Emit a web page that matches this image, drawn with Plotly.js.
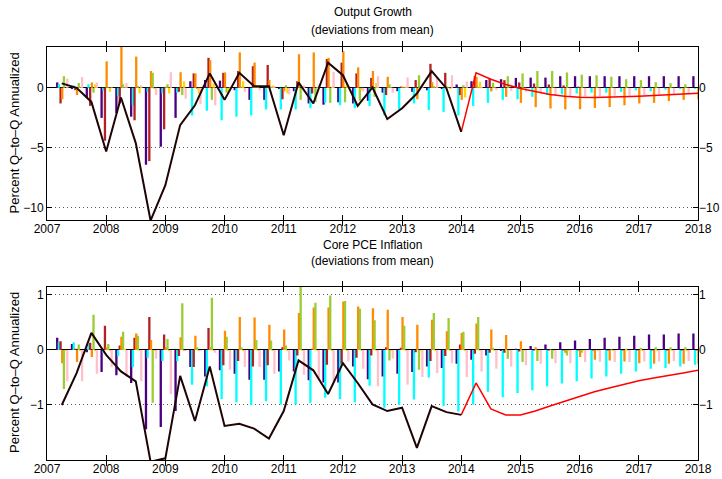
<!DOCTYPE html>
<html>
<head>
<meta charset="utf-8">
<script src="https://cdn.plot.ly/plotly-3.0.1.min.js"></script>
<style>
  html, body { margin: 0; padding: 0; background: #fff; }
  #chart { width: 722px; height: 479px; }
</style>
</head>
<body>
<div id="chart"></div>
<script>
// Quarters 2007Q1 .. 2017Q4, plotted at year + q/4
const quarters = [];
for (let y = 2007; y <= 2017; y++) {
  for (let q = 1; q <= 4; q++) quarters.push(y + q / 4);
}
const yearTicks = [2007, 2008, 2009, 2010, 2011, 2012, 2013, 2014, 2015, 2016, 2017, 2018];

// Shock contributions — output growth
const gdpPurple = [0.45, -0.1, -0.8, -2.5, -2.1, -2.4, -6.4, -4.9, -2.5, 0.55, 0.65, 0.6, -0.2, -1.0, -1.0, -0.1, -0.28, -1.3, -1.4, -1.2, -1.3, -1.08, -0.4, -0.28, -0.33, -0.2, -0.1, 0.28, 0.55, 0.65, 0.72, 0.83, 0.85, 0.85, 0.97, 0.97, 0.97, 0.97, 0.97, 0.97, 0.97, 0.97, 0.97, 0.97];
const gdpCyan = [0.3, 0.2, 0.3, -0.2, -0.65, -1.45, -0.33, -0.47, -0.4, -2.3, -1.9, -2.7, -2.4, -2.3, -1.8, -1.8, -1.8, -1.67, -1.25, -1.45, -1.67, -1.5, -2.3, -1.8, -1.3, -1.85, -2.0, -2.3, -1.5, -1.25, -1.0, -0.95, -0.75, -0.6, -0.55, -0.47, -0.4, -0.4, -0.33, -0.2, -0.28, -0.15, -0.1, -0.08];
const gdpRed = [-1.3, -0.2, -1.5, -4.4, -1.3, -2.7, -6.1, -3.45, -0.33, 1.2, 2.5, 1.25, 1.4, 1.8, 1.9, -0.95, 0.55, -0.47, 2.4, 2.1, 1.2, 0.83, -0.6, 0.1, 0.65, 2.0, 1.25, -0.6, 0.97, 0.78, 0.64, 0.45, 0.36, 0.28, 0.2, 0.1, 0.05, 0.02, 0.02, 0.02, 0.02, 0.02, 0.02, 0.02];
const gdpOrange = [-0.95, -0.6, 0.45, 2.2, 3.5, 2.6, 1.4, 0.1, 1.3, 1.2, 2.3, 1.28, 2.95, 2.1, 0.65, -0.3, 2.8, 2.95, 2.5, 3.05, 1.7, 1.4, 0.92, 0.1, -0.95, 0.47, 0.1, -1.0, 0.92, -0.3, -0.75, -1.25, -1.6, -1.72, -1.8, -1.78, -1.67, -1.6, -1.45, -1.3, -1.25, -1.1, -1.0, -0.95];
const gdpGreen = [0.97, 0.4, -0.4, 0.05, 0.3, 0.15, 1.25, 0.3, -0.6, -0.1, -1.0, -0.4, 0.1, 0.05, 0.1, 0.22, -1.0, -1.17, -1.25, -1.2, -1.08, -0.75, 0.3, 0.05, 1.05, 0.14, 0.05, 0.22, 0.1, 0.42, 0.97, 1.2, 1.4, 1.4, 1.28, 1.1, 1.05, 0.92, 0.72, 0.64, 0.47, 0.39, 0.3, 0.2];
const gdpGold = [0.0, 0.05, 0.3, -0.33, 0.05, -0.45, -0.1, -0.47, 0.55, -0.47, 0.35, -0.33, 0.55, 0.05, 0.2, -0.47, 0.1, 0.05, 0.1, 0.28, -0.2, 0.4, 0.05, 0.1, 0.1, 0.05, -0.1, -0.8, 0.5, 0.05, 0.02, 0.02, 0.02, 0.02, 0.02, 0.02, 0.02, 0.02, 0.02, 0.02, 0.02, 0.02, 0.02, 0.02];
const gdpPink = [0.78, 0.9, 0.45, 0.05, 0.4, 0.2, -0.6, 1.3, -0.9, -1.35, -1.45, 0.05, -0.33, -0.2, 0.15, -0.55, 0.2, 0.3, 1.33, 0.15, -0.3, 0.97, -0.4, 0.86, 0.1, 0.9, 1.05, 0.53, 0.08, -0.2, -0.25, -0.33, -0.47, -0.6, -0.7, -0.7, -0.7, -0.65, -0.65, -0.6, -0.55, -0.53, -0.47, -0.42];

// Output growth: history (2007Q1..2013Q4) and forecast (2013Q4..2017Q4)
const gdpHist = [0.37, 0.0, -1.17, -5.3, -0.8, -4.6, -11.05, -8.1, -3.1, -1.45, 1.2, -1.0, 1.25, 0.14, 0.14, -3.95, 0.45, -1.3, 2.1, 1.05, -1.5, 0.03, -2.6, -1.7, -0.47, 1.39, -0.05, -3.67];
const gdpFcst = [-3.67, 1.25, 0.72, 0.28, -0.05, -0.33, -0.55, -0.69, -0.78, -0.8, -0.78, -0.75, -0.7, -0.64, -0.58, -0.53, -0.45];

// Shock contributions — core PCE inflation
const pcePurple = [0.22, 0.11, -0.04, -0.4, -0.46, -0.6, -1.44, -1.4, -1.11, -0.31, -0.48, -0.37, -0.43, -0.54, -0.54, -0.39, -0.39, -0.55, -0.59, -0.59, -0.3, -0.53, -0.48, -0.43, -0.4, -0.3, -0.33, -0.25, -0.18, -0.1, -0.02, 0.02, 0.07, 0.1, 0.14, 0.17, 0.2, 0.22, 0.24, 0.26, 0.28, 0.28, 0.3, 0.3];
const pceCyan = [0.14, 0.14, 0.11, -0.05, -0.11, -0.31, -0.14, -0.2, -0.2, -0.63, -0.66, -0.89, -0.95, -1.0, -0.93, -0.99, -0.99, -0.96, -0.87, -0.89, -0.95, -0.65, -1.05, -1.0, -0.9, -0.5, -1.02, -1.12, -0.99, -0.76, -0.86, -0.78, -0.73, -0.66, -0.61, -0.57, -0.52, -0.48, -0.43, -0.39, -0.34, -0.33, -0.3, -0.27];
const pceRed = [0.16, 0.02, 0.13, 0.44, 0.08, 0.22, 0.6, 0.28, -0.11, -0.31, 0.4, -0.28, -0.2, -0.3, -0.28, 0.05, -0.1, 0.02, -0.27, -0.25, -0.14, -0.1, 0.05, 0.04, -0.04, -0.2, -0.11, 0.1, -0.07, -0.05, -0.05, -0.03, -0.01, -0.01, -0.01, -0.01, -0.01, -0.01, -0.01, -0.01, -0.01, -0.01, -0.01, -0.01];
const pceOrange = [-0.24, -0.22, -0.13, 0.05, 0.24, 0.3, 0.18, 0.05, 0.23, 0.26, 0.05, 0.35, 0.6, 0.59, 0.46, 0.37, 0.67, 0.77, 0.77, 0.88, 0.79, 0.76, 0.73, 0.6, 0.46, 0.55, 0.34, 0.31, 0.48, 0.37, 0.27, 0.16, 0.05, 0.01, -0.05, -0.13, -0.18, -0.19, -0.21, -0.24, -0.25, -0.25, -0.25, -0.25];
const pceGreen = [-0.71, 0.1, 0.64, 0.11, 0.33, 0.26, -0.96, 0.2, 0.85, 0.05, 0.95, 0.24, 0.05, 0.18, 0.17, 0.08, 1.16, 0.86, 0.99, 0.89, 0.75, 0.54, -0.19, 0.44, -0.36, 0.67, 0.58, 0.33, 0.6, 0.04, -0.16, -0.22, -0.2, -0.16, -0.1, -0.05, 0.0, 0.01, 0.02, 0.04, 0.05, 0.05, 0.05, 0.05];
const pceGold = [-0.02, -0.02, -0.02, -0.02, 0.02, -0.02, -0.02, -0.02, -0.02, -0.02, -0.02, -0.02, -0.02, -0.02, -0.02, -0.02, -0.02, -0.02, -0.02, -0.02, -0.02, -0.02, -0.02, -0.02, -0.02, -0.02, -0.02, -0.02, -0.02, -0.02, -0.02, -0.02, -0.02, -0.02, -0.02, -0.02, -0.02, -0.02, -0.02, -0.02, -0.02, -0.02, -0.02, -0.02];
const pcePink = [-0.57, -0.57, -0.43, -0.31, -0.48, -0.57, -0.16, -0.8, -0.02, -0.02, -0.05, -0.36, -0.31, -0.31, -0.43, -0.19, -0.45, -0.51, -0.57, -0.21, -0.34, -0.66, -0.16, -0.63, -0.49, -0.42, -0.24, -0.49, -0.39, -0.34, -0.3, -0.28, -0.25, -0.24, -0.24, -0.22, -0.22, -0.22, -0.22, -0.21, -0.21, -0.2, -0.2, -0.2];

const pceHist = [-1.0, -0.42, 0.31, -0.09, -0.39, -0.57, -2.03, -1.97, -0.47, -1.29, -0.3, -1.38, -1.34, -1.43, -1.61, -1.11, -0.19, -0.37, -0.8, -0.24, -0.6, -0.99, -1.11, -1.05, -1.78, -1.02, -1.13, -1.18];
const pceFcst = [-1.18, -0.6, -1.07, -1.18, -1.18, -1.11, -1.02, -0.93, -0.84, -0.76, -0.69, -0.62, -0.56, -0.51, -0.47, -0.42, -0.37];

const seriesColors = ['#4b0082', '#00ffff', '#b22222', '#ff8c00', '#9acd32', '#ffd700', '#ffc0cb'];
const histX = quarters.slice(0, 28);
const fcstX = quarters.slice(27);

// Seven slightly overlapping bars per quarter (x units: one quarter = 0.25)
const BAR_W = 0.039, BAR_STEP = 0.0284, BAR_SHIFT = 0.0076;

function barTraces(list, xa, ya) {
  return list.map((vals, i) => ({
    type: 'bar', x: quarters, y: vals, xaxis: xa, yaxis: ya,
    width: BAR_W, offset: BAR_SHIFT + (i - 3) * BAR_STEP - BAR_W / 2,
    marker: { color: seriesColors[i], line: { width: 0 } },
    hoverinfo: 'skip', showlegend: false
  }));
}
function lineTrace(x, y, color, width, xa, ya) {
  return { type: 'scatter', mode: 'lines', x: x, y: y, xaxis: xa, yaxis: ya,
    line: { color: color, width: width }, hoverinfo: 'skip', showlegend: false };
}

const traces = [].concat(
  barTraces([gdpPurple, gdpCyan, gdpRed, gdpOrange, gdpGreen, gdpGold, gdpPink], 'x', 'y'),
  barTraces([pcePurple, pceCyan, pceRed, pceOrange, pceGreen, pceGold, pcePink], 'x2', 'y2'),
  [
    lineTrace(fcstX, gdpFcst, '#ff0000', 1.5, 'x', 'y'),
    lineTrace(histX, gdpHist, '#1e0404', 2, 'x', 'y'),
    lineTrace(fcstX, pceFcst, '#ff0000', 1.5, 'x2', 'y2'),
    lineTrace(histX, pceHist, '#1e0404', 2, 'x2', 'y2'),
    // right-hand tick labels
    { type: 'scatter', x: [], y: [], xaxis: 'x', yaxis: 'y3', showlegend: false, hoverinfo: 'skip' },
    { type: 'scatter', x: [], y: [], xaxis: 'x2', yaxis: 'y4', showlegend: false, hoverinfo: 'skip' }
  ]
);

const W = 722, H = 479, L = 47, R = 24;
const py = p => (H - p) / H;          // pixel row -> paper y
const px = p => (p - L) / (W - L - R); // pixel column -> paper x

const font = { family: 'Liberation Sans, Arial, sans-serif', size: 12, color: '#000' };
const topDomain = [py(220), py(47)];
const botDomain = [py(460), py(286.7)];

function xAxis(anchor) {
  return {
    anchor: anchor, range: [2007, 2018], tickvals: yearTicks, ticktext: yearTicks.map(String),
    showline: true, linecolor: '#000', linewidth: 1, mirror: 'allticks',
    ticks: 'inside', ticklen: 5, tickcolor: '#000', showgrid: false, zeroline: false,
    ticklabelstandoff: -2, tickfont: font, automargin: false
  };
}
function yAxis(anchor, domain, range, tickvals) {
  return {
    anchor: anchor, domain: domain, range: range, tickvals: tickvals,
    showline: true, linecolor: '#000', linewidth: 1, mirror: 'allticks',
    ticks: 'inside', ticklen: 5, tickcolor: '#000',
    showgrid: true, gridcolor: '#555', griddash: '1px,3px', gridwidth: 1,
    zeroline: true, zerolinecolor: '#000', zerolinewidth: 1,
    tickfont: font, automargin: false
  };
}
function yRight(overlay, anchor, range, tickvals) {
  return {
    overlaying: overlay, anchor: anchor, side: 'right', range: range, tickvals: tickvals,
    showline: false, showgrid: false, zeroline: false, ticks: '', tickfont: font, automargin: false
  };
}

const layout = {
  width: W, height: H,
  margin: { l: L, r: R, t: 0, b: 0 },
  paper_bgcolor: '#fff', plot_bgcolor: '#fff',
  barmode: 'overlay',
  font: font, showlegend: false,
  xaxis: xAxis('y'),
  yaxis: yAxis('x', topDomain, [-11, 3.4], [-10, -5, 0]),
  xaxis2: xAxis('y2'),
  yaxis2: yAxis('x2', botDomain, [-2, 1.15], [-1, 0, 1]),
  yaxis3: yRight('y', 'x', [-11, 3.4], [-10, -5, 0]),
  yaxis4: yRight('y2', 'x2', [-2, 1.15], [-1, 0, 1]),
  annotations: [
    { text: 'Output Growth', x: 0.5, y: py(12) },
    { text: '(deviations from mean)', x: 0.5, y: py(30) },
    { text: 'Core PCE Inflation', x: 0.5, y: py(244.5) },
    { text: '(deviations from mean)', x: 0.5, y: py(261) },
    { text: 'Percent Q\u2013to\u2013Q Annualized', x: px(14), y: py(133.5), textangle: -90, size: 13 },
    { text: 'Percent Q\u2013to\u2013Q Annualized', x: px(14), y: py(373), textangle: -90, size: 13 }
  ].map(a => ({
    text: a.text, x: a.x, y: a.y, xref: 'paper', yref: 'paper',
    xanchor: 'center', yanchor: 'middle', showarrow: false,
    textangle: a.textangle || 0,
    font: { family: font.family, size: a.size || 12, color: '#000' }
  }))
};

Plotly.newPlot('chart', traces, layout, { staticPlot: true, displayModeBar: false });
</script>
</body>
</html>
